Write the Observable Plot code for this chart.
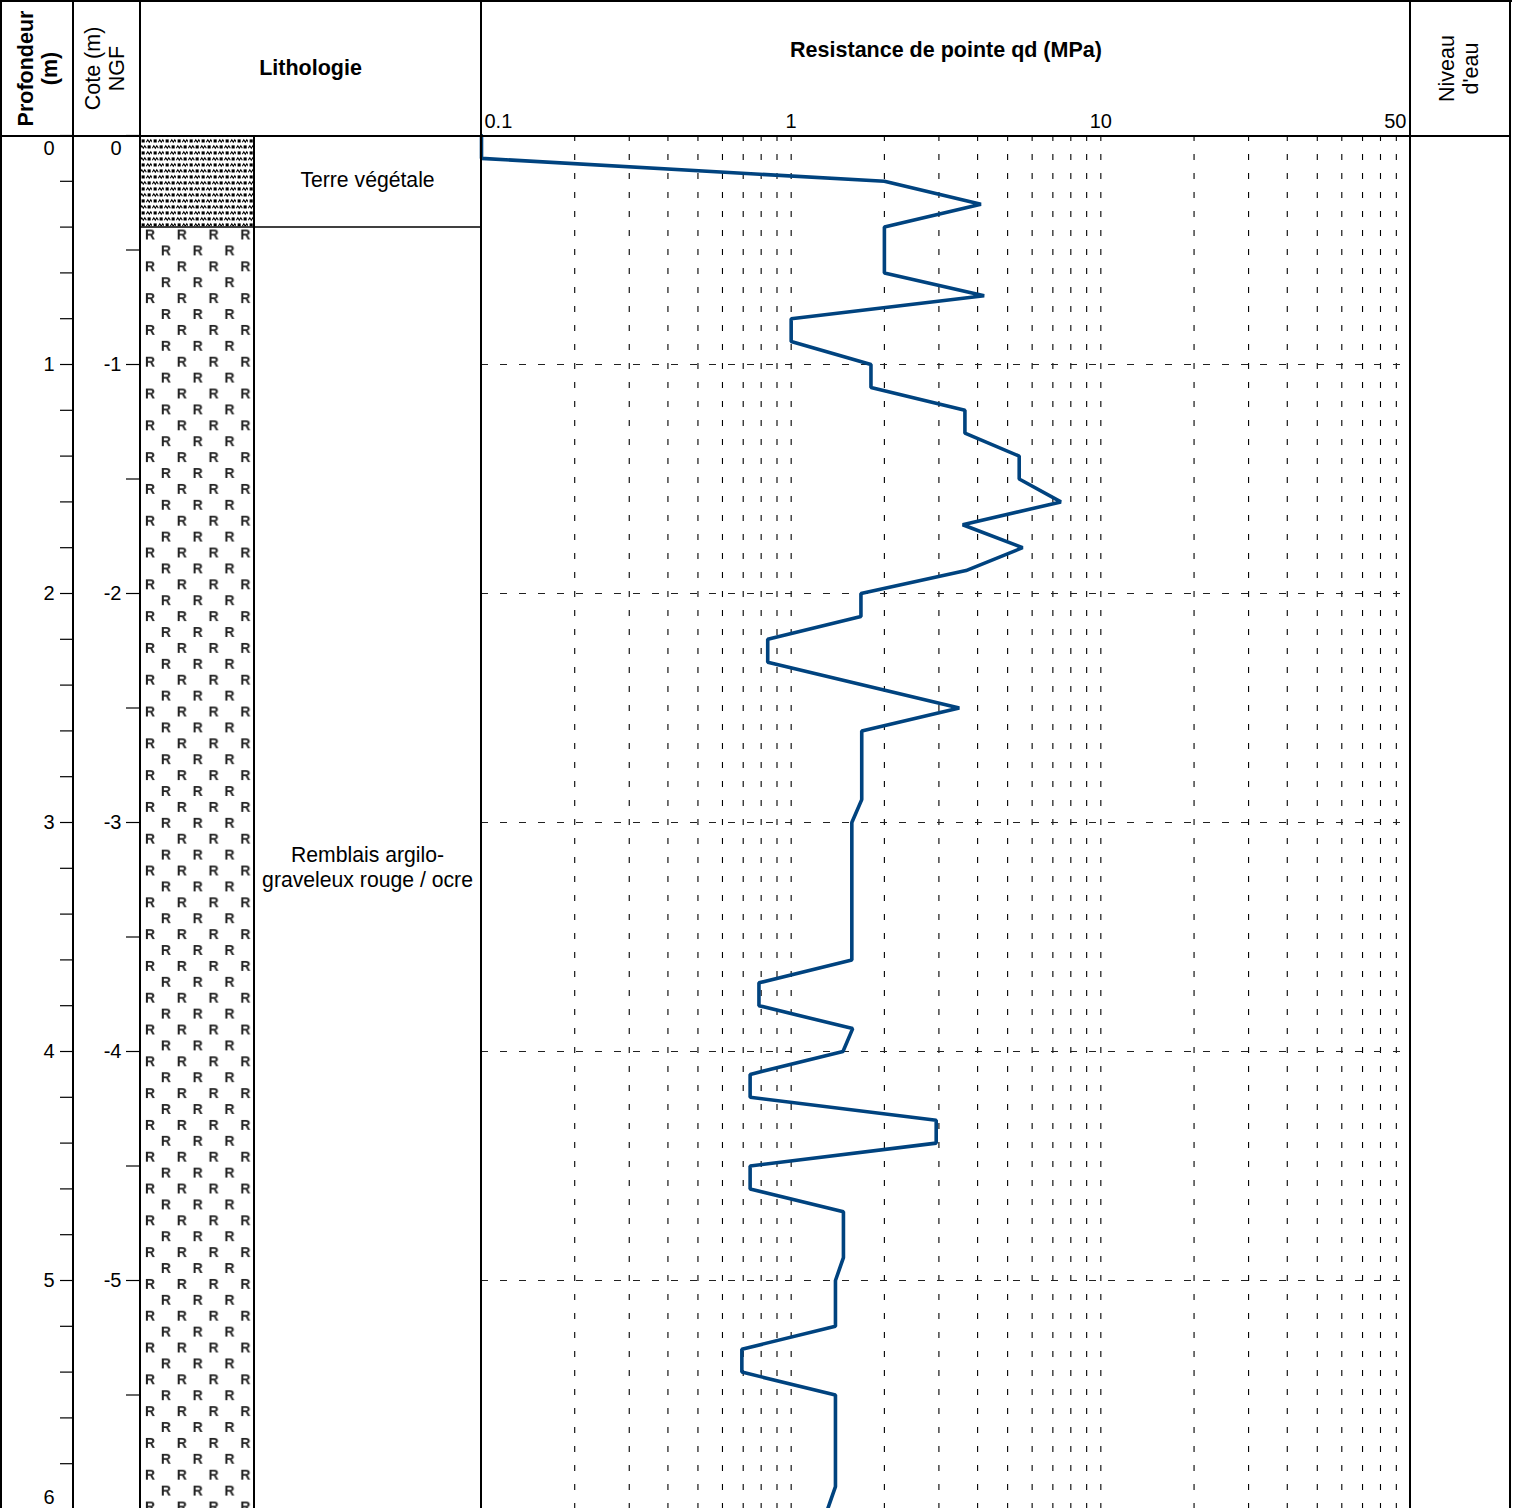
<!DOCTYPE html>
<html><head><meta charset="utf-8">
<script src="https://cdn.jsdelivr.net/npm/d3@7"></script>
<script src="https://cdn.jsdelivr.net/npm/@observablehq/plot@0.6"></script>
<style>
body{margin:0;background:#fff;}
#chart{position:relative;width:1514px;height:1508px;overflow:hidden;background:#fff;}
#chart svg.panel{position:absolute;top:0;}
.ln{position:absolute;background:#000;}
</style></head><body>
<svg width="0" height="0" style="position:absolute">
<defs>
<pattern id="terre" patternUnits="userSpaceOnUse" x="0" y="0" width="12" height="12">
<rect width="12" height="12" fill="#fff"/>
<path d="M0.3,4.2 L1.8,1.8 L3.3,4.2 L4.8,1.8 L6.3,4.2" fill="none" stroke="#000" stroke-width="1.1"/>
<rect x="7.6" y="1.4" width="3.1" height="3.1" fill="#000"/>
<path d="M6.3,10.2 L7.8,7.8 L9.3,10.2 L10.8,7.8 L12.3,10.2" fill="none" stroke="#000" stroke-width="1.1"/>
<rect x="1.6" y="7.4" width="3.1" height="3.1" fill="#000"/>
</pattern>
<pattern id="remblais" patternUnits="userSpaceOnUse" x="0" y="0" width="31.8" height="31.8">
<rect width="31.8" height="31.8" fill="#fff"/>
<g font-family="Liberation Sans, Arial, sans-serif" font-size="14" font-weight="bold" text-anchor="middle" fill="#222">
<text x="10" y="16.5">R</text>
<text x="26" y="32.3">R</text>
<text x="26" y="0.5">R</text>
</g>
</pattern>
</defs></svg>
<div id="chart"></div>
<script>
// ---------------- DATA ----------------
const depthLabels = [0, 1, 2, 3, 4, 5, 6];
const depthMinorTicks = [0,0.2,0.4,0.6,0.8,1,1.2,1.4,1.6,1.8,2,2.2,2.4,2.6,2.8,3,3.2,3.4,3.6,3.8,4,4.2,4.4,4.6,4.8,5,5.2,5.4,5.6,5.8,6];
const groundLevelNGF = 0;
const coteLabels = [0, -1, -2, -3, -4, -5];
const coteTicks = [0,-0.5,-1,-1.5,-2,-2.5,-3,-3.5,-4,-4.5,-5,-5.5];

const layerTop = [0, 0.4];
const layerBottom = [0.4, 6.0];
const layerName = ["Terre végétale", "Remblais argilo-\ngraveleux rouge / ocre"];
const layerPattern = ["terre", "remblais"];

const qdGrid = [0.2,0.3,0.4,0.5,0.6,0.7,0.8,0.9,1,2,3,4,5,6,7,8,9,10,20,30,40,50,60,70,80,90];
const qdTickValues = [0.1, 1, 10, 100];
const qdTickLabels = ["0.1", "1", "10", "50"];
const depthGridLines = [1, 2, 3, 4, 5];

const profDepth = [0,0.1,0.2,0.3,0.4,0.6,0.7,0.8,0.9,1.0,1.1,1.2,1.3,1.4,1.5,1.6,1.7,1.8,1.9,2.0,2.1,2.2,2.3,2.5,2.6,2.9,3.0,3.6,3.7,3.8,3.9,4.0,4.1,4.2,4.3,4.4,4.5,4.6,4.7,4.9,5.0,5.2,5.3,5.4,5.5,5.9,6.0];
const profQd    = [0.1,0.1,2.0,4.1,2.0,2.0,4.2,1.0,1.0,1.81,1.81,3.64,3.64,5.45,5.45,7.43,3.58,5.59,3.67,1.68,1.68,0.84,0.84,3.49,1.69,1.69,1.57,1.57,0.787,0.787,1.58,1.47,0.737,0.737,2.94,2.94,0.737,0.737,1.475,1.475,1.39,1.39,0.693,0.693,1.39,1.39,1.31];

const headers = {
  profondeur: "Profondeur\n(m)",
  cote: "Cote (m)\nNGF",
  litho: "Lithologie",
  qd: "Resistance de pointe qd (MPa)",
  eau: "Niveau\nd'eau"
};

// ---------------- LAYOUT ----------------
const H = 1508, TOP = 135;
const yScale = {domain: [0, 6], range: [TOP, 1509]};
const FONT = "'Liberation Sans', Arial, Helvetica, sans-serif";
const style = `font-family:${FONT};overflow:visible;background:transparent;`;
const chart = document.getElementById("chart");
const HDR = 21.5;

function place(svg, left) {
  svg.classList.add("panel");
  svg.style.left = left + "px";
  svg.style.position = "absolute";
  svg.style.top = "0px";
  chart.appendChild(svg);
}

// Profondeur panel
{
  const first = depthLabels.slice(0, 1), mid = depthLabels.slice(1, -1), last = depthLabels.slice(-1);
  const common = {y: d => d, text: d => String(d), frameAnchor: "left", textAnchor: "end", dx: -6, fontSize: 20, fill: "#000"};
  const svg = Plot.plot({
    width: 73, height: H, marginLeft: 60, marginRight: 0, marginTop: TOP, marginBottom: 0,
    y: {...yScale, axis: null},
    style,
    marks: [
      Plot.tickY(depthMinorTicks, {y: d => d, stroke: "#000", strokeWidth: 1.2}),
      Plot.text(first, {...common, lineAnchor: "top", dy: 5}),
      Plot.text(mid, {...common, lineAnchor: "middle"}),
      Plot.text(last, {...common, lineAnchor: "bottom", dy: -6}),
      Plot.text([headers.profondeur], {text: d => d, frameAnchor: "top", lineAnchor: "middle", dy: -67, dx: -30, rotate: -90,
        fontSize: HDR, fontWeight: "bold", lineHeight: 1.12, fill: "#000"})
    ]
  });
  place(svg, 0);
}

// Cote panel
{
  const yOf = c => groundLevelNGF - c;
  const first = coteLabels.slice(0, 1), mid = coteLabels.slice(1);
  const common = {y: yOf, text: d => String(d), frameAnchor: "left", textAnchor: "end", dx: -5, fontSize: 20, fill: "#000"};
  const svg = Plot.plot({
    width: 67, height: H, marginLeft: 53, marginRight: 0, marginTop: TOP, marginBottom: 0,
    y: {...yScale, axis: null},
    style,
    marks: [
      Plot.tickY(coteTicks, {y: yOf, stroke: "#000", strokeWidth: 1.2}),
      Plot.text(first, {...common, lineAnchor: "top", dy: 5}),
      Plot.text(mid, {...common, lineAnchor: "middle"}),
      Plot.text([headers.cote], {text: d => d, frameAnchor: "top", lineAnchor: "middle", dy: -67, dx: -29, rotate: -90,
        fontSize: HDR, lineHeight: 1.12, fill: "#000"})
    ]
  });
  place(svg, 73);
}

// Lithology pattern column
{
  const layers = layerTop.map((t, i) => ({top: t, bottom: layerBottom[i], pattern: layerPattern[i]}));
  const svg = Plot.plot({
    width: 114, height: H, marginLeft: 0, marginRight: 0, marginTop: TOP, marginBottom: 0,
    y: {...yScale, axis: null},
    style,
    marks: [
      ...layers.map(l => Plot.rect([l], {y1: "top", y2: "bottom", fill: `url(#${l.pattern})`})),
      Plot.ruleY(layerTop.slice(1), {stroke: "#000", strokeWidth: 1.5})
    ]
  });
  place(svg, 140);
}

// Lithology description column
{
  const layers = layerTop.map((t, i) => ({mid: (t + layerBottom[i]) / 2, name: layerName[i]}));
  const svg = Plot.plot({
    width: 226, height: H, marginLeft: 0, marginRight: 0, marginTop: TOP, marginBottom: 0,
    y: {...yScale, axis: null},
    style,
    marks: [
      Plot.ruleY(layerTop.slice(1), {stroke: "#000", strokeWidth: 1.5}),
      Plot.text(layers, {y: "mid", text: "name", fontSize: 21.2, lineHeight: 1.18, dy: -2, fill: "#000"}),
      Plot.text([headers.litho], {text: d => d, frameAnchor: "top", lineAnchor: "middle", dy: -67, dx: -57,
        fontSize: HDR, fontWeight: "bold", fill: "#000"})
    ]
  });
  place(svg, 254);
}

// qd panel
{
  const profile = profDepth.map((d, i) => ({depth: d, qd: profQd[i]}));
  const ticks = qdTickValues.map((v, i) => ({v, label: qdTickLabels[i]}));
  const tcommon = {x: "v", text: "label", frameAnchor: "top", lineAnchor: "middle", dy: -14, fontSize: 20, fill: "#000"};
  const svg = Plot.plot({
    width: 932, height: H, marginLeft: 1, marginRight: 2, marginTop: TOP, marginBottom: 0,
    x: {type: "log", domain: [0.1, 100], range: [1, 930], axis: null},
    y: {...yScale, axis: null},
    style,
    marks: [
      Plot.ruleX(qdGrid, {stroke: "#000", strokeWidth: 1.1, strokeDasharray: "6,13"}),
      Plot.ruleY(depthGridLines, {stroke: "#222", strokeWidth: 1.1, strokeDasharray: "7,12"}),
      Plot.line(profile, {x: "qd", y: "depth", stroke: "#00437f", strokeWidth: 3.6, strokeLinejoin: "miter"}),
      Plot.text(ticks.slice(0, 1), {...tcommon, textAnchor: "start", dx: 3}),
      Plot.text(ticks.slice(1, -1), {...tcommon, textAnchor: "middle"}),
      Plot.text(ticks.slice(-1), {...tcommon, textAnchor: "end", dx: -4}),
      Plot.text([headers.qd], {text: d => d, frameAnchor: "top", lineAnchor: "middle", dy: -85,
        fontSize: HDR, fontWeight: "bold", fill: "#000"})
    ]
  });
  place(svg, 480);
}

// Niveau d'eau panel
{
  const svg = Plot.plot({
    width: 100, height: H, marginLeft: 0, marginRight: 0, marginTop: TOP, marginBottom: 0,
    style,
    marks: [
      Plot.text([headers.eau], {text: d => d, frameAnchor: "top", lineAnchor: "middle", dy: -67, dx: -2, rotate: -90,
        fontSize: HDR, lineHeight: 1.12, fill: "#000"})
    ]
  });
  place(svg, 1410);
}

// Table borders (layout)
const lines = [
  {l: 0, t: 0, w: 1512, h: 2},        // top border
  {l: 0, t: 0, w: 2, h: H},           // left border
  {l: 1509, t: 0, w: 2, h: H},        // right border
  {l: 0, t: 134.5, w: 1511, h: 2},    // header separator
  {l: 72, t: 0, w: 2, h: H},
  {l: 139, t: 0, w: 2, h: H},
  {l: 253, t: 135, w: 1.6, h: H},
  {l: 479.5, t: 0, w: 2, h: H},
  {l: 1409, t: 0, w: 2, h: H}
];
for (const s of lines) {
  const d = document.createElement("div");
  d.className = "ln";
  d.style.left = s.l + "px"; d.style.top = s.t + "px";
  d.style.width = s.w + "px"; d.style.height = s.h + "px";
  chart.appendChild(d);
}
</script>
</body></html>
